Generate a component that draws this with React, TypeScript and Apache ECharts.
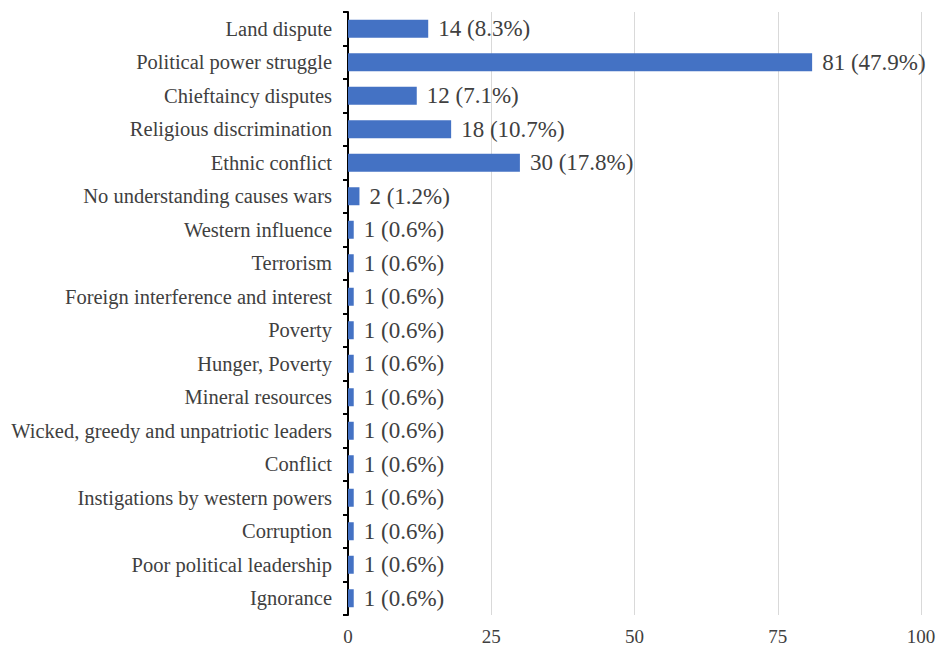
import React, { useEffect, useRef } from "react";
import * as echarts from "echarts";

const categories = [
  "Land dispute",
  "Political power struggle",
  "Chieftaincy disputes",
  "Religious discrimination",
  "Ethnic conflict",
  "No understanding causes wars",
  "Western influence",
  "Terrorism",
  "Foreign interference and interest",
  "Poverty",
  "Hunger, Poverty",
  "Mineral resources",
  "Wicked, greedy and unpatriotic leaders",
  "Conflict",
  "Instigations by western powers",
  "Corruption",
  "Poor political leadership",
  "Ignorance",
];
const counts = [14, 81, 12, 18, 30, 2, 1, 1, 1, 1, 1, 1, 1, 1, 1, 1, 1, 1];
const percents = ["8.3", "47.9", "7.1", "10.7", "17.8", "1.2", "0.6", "0.6", "0.6", "0.6", "0.6", "0.6", "0.6", "0.6", "0.6", "0.6", "0.6", "0.6"];
const xTicks = [0, 25, 50, 75, 100];

export default function App() {
  const ref = useRef<HTMLDivElement>(null);
  useEffect(() => {
    if (!ref.current) return;
    const chart = echarts.init(ref.current, undefined, { renderer: "svg" });
    const font = "Liberation Serif, Times New Roman, DejaVu Serif, serif";
    chart.setOption({
      animation: false,
      backgroundColor: "#ffffff",
      textStyle: { fontFamily: font },
      grid: { left: 348, right: 18, top: 12, bottom: 32, containLabel: false },
      xAxis: {
        type: "value",
        min: xTicks[0],
        max: xTicks[xTicks.length - 1],
        interval: 25,
        axisLine: { show: false },
        axisTick: { show: false },
        splitLine: { show: true, lineStyle: { color: "#d9d9d9", width: 1 } },
        axisLabel: { fontFamily: font, fontSize: 19, color: "#404040", margin: 12 },
      },
      yAxis: {
        type: "category",
        inverse: true,
        data: categories,
        axisLine: { show: true, lineStyle: { color: "#000000", width: 2 } },
        axisTick: { show: true, length: 5, lineStyle: { color: "#000000", width: 2 } },
        axisLabel: { fontFamily: font, fontSize: 20.5, color: "#404040", margin: 16 },
      },
      series: [
        {
          type: "bar",
          data: counts,
          barWidth: 18,
          itemStyle: { color: "#4472C4" },
          label: {
            show: true,
            position: "right",
            distance: 10,
            fontFamily: font,
            fontSize: 23,
            color: "#404040",
            formatter: (p: any) => `${counts[p.dataIndex]} (${percents[p.dataIndex]}%)`,
          },
        },
      ],
    });
    return () => chart.dispose();
  }, []);
  return <div ref={ref} style={{ width: 939, height: 647, position: "absolute", left: 0, top: 0 }} />;
}
